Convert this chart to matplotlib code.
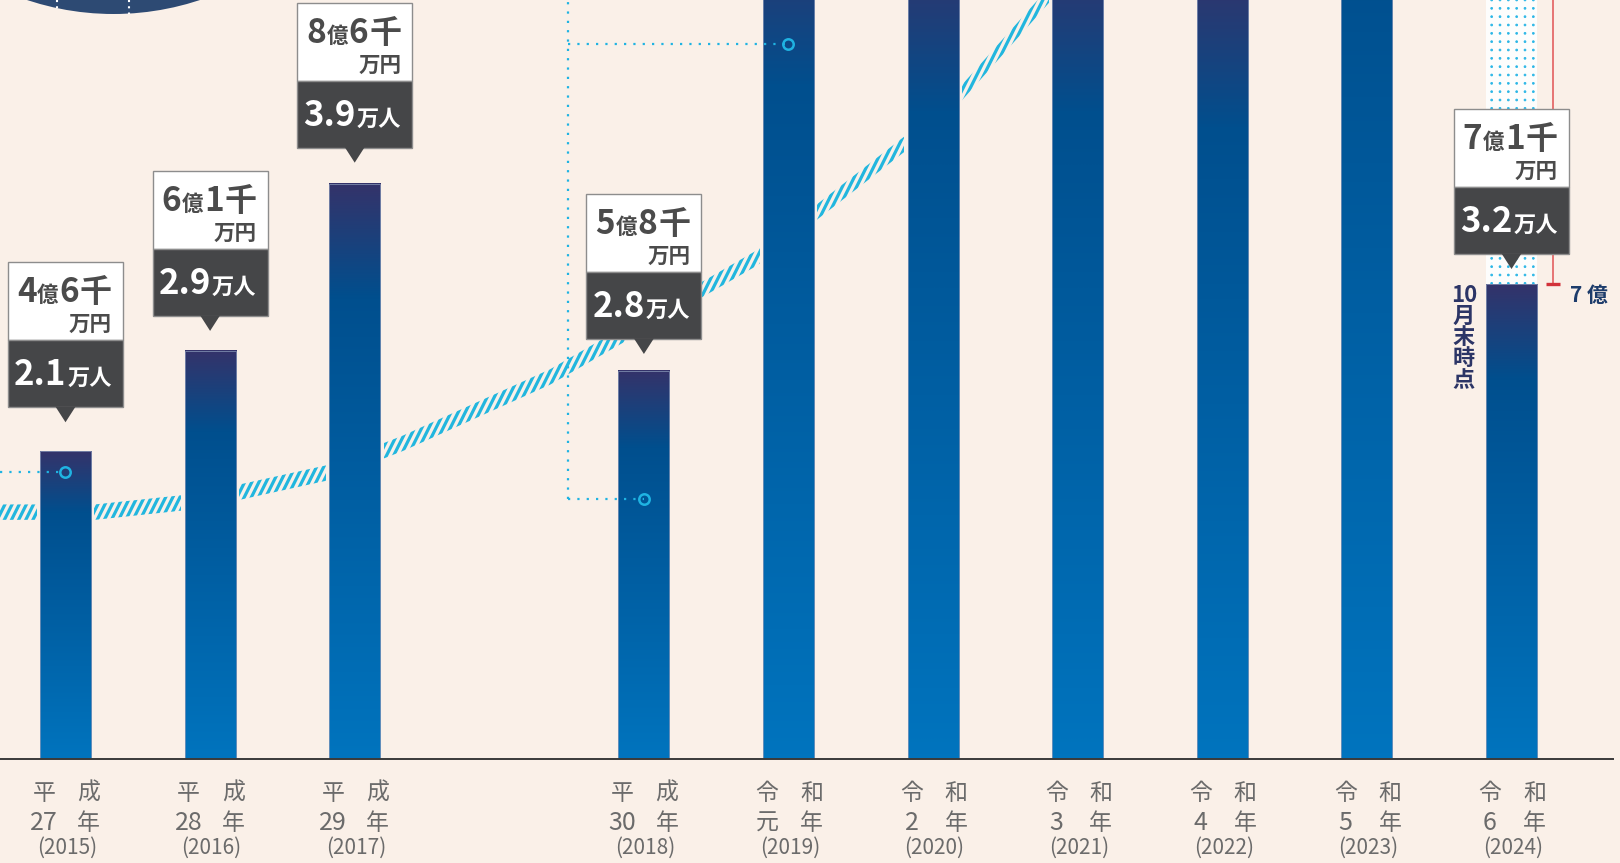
import numpy as np
import matplotlib
matplotlib.use("Agg")
import matplotlib.pyplot as plt
import matplotlib.hatch as mhatch
from matplotlib.path import Path
from matplotlib.patches import Rectangle, Polygon, Circle
from matplotlib.colors import LinearSegmentedColormap
from matplotlib.transforms import IdentityTransform, blended_transform_factory, offset_copy
from matplotlib.lines import Line2D

# ---------------- data ----------------
positions = [0, 1, 2, 4, 5, 6, 7, 8, 9, 10]
era = ["平成", "平成", "平成", "平成", "令和", "令和", "令和", "令和", "令和", "令和"]
era_year = ["27", "28", "29", "30", "元", "2", "3", "4", "5", "6"]
years = ["2015", "2016", "2017", "2018", "2019", "2020", "2021", "2022", "2023", "2024"]
amount = [4.6, 6.1, 8.6, 5.8, 12.6, 12.1, 12.1, 11.8, 14.8, 7.1]   # 億円

box_index = [0, 1, 2, 3, 9]
box_oku = ["4", "6", "8", "5", "7"]
box_sen = ["6", "1", "6", "8", "1"]
box_people = ["2.1", "2.9", "3.9", "2.8", "3.2"]

trend_x = [-0.453, 0.204, 0.813, 1.207, 1.815, 2.334, 3.351, 4.782, 5.169, 5.819, 6.199, 6.773, 7.0]
trend_y = [3.69, 3.69, 3.83, 3.99, 4.28, 4.72, 5.71, 7.49, 8.13, 9.22, 9.96, 11.35, 11.9]

marker_x = [0, 4, 5]
marker_y = [4.29, 3.89, 10.69]

target_value = 7.1
target_label = "7 億"
note_2024 = "10月末時点"


# ---------------- custom hatch patterns (steep stripes, square dot grid) ----------------
class SteepStripes(mhatch.HatchPatternBase):
    def __init__(self, hatch, density):
        self.n = int(round(hatch.count("/") * density * 1.2))
        self.m = int(round(self.n * 0.5))
        self.num_vertices = (self.n + self.m + 1) * 2 if self.n else 0

    def set_vertices_and_codes(self, vertices, codes):
        xs = (np.arange(-self.m, self.n + 1)) / self.n
        vertices[0::2, 0] = xs
        vertices[0::2, 1] = 0.0
        vertices[1::2, 0] = xs + self.m / self.n
        vertices[1::2, 1] = 1.0
        codes[0::2] = Path.MOVETO
        codes[1::2] = Path.LINETO


class GridDots(mhatch.HatchPatternBase):
    def __init__(self, hatch, density):
        self.num_rows = hatch.count(".") * density
        circ = Path.unit_circle()
        self.sv = circ.vertices
        self.sc = circ.codes
        self.num_vertices = ((self.num_rows + 1) ** 2 * len(self.sv)) if self.num_rows else 0

    def set_vertices_and_codes(self, vertices, codes):
        off = 1.0 / self.num_rows
        sv = self.sv * off * 0.11
        vp, cp = [], []
        for r in range(self.num_rows + 1):
            for c in range(self.num_rows + 1):
                vp.append(sv + [c * off, r * off])
                cp.append(self.sc)
        np.concatenate(vp, out=vertices)
        np.concatenate(cp, out=codes)


for i, t in enumerate(mhatch._hatch_types):
    if t is mhatch.NorthEastHatch:
        mhatch._hatch_types[i] = SteepStripes
    elif t is mhatch.SmallFilledCircles:
        mhatch._hatch_types[i] = GridDots

# ---------------- style ----------------
BG = "#faf0e8"
CYAN = "#1fb3e2"
W, H = 1620, 863
plt.rcParams["font.family"] = ["Noto Sans CJK JP", "DejaVu Sans"]

fig = plt.figure(figsize=(W / 100, H / 100), dpi=100, facecolor=BG)
ax = fig.add_axes([0, 0, 1, 1])
ax.set_facecolor(BG)
ax.axis("off")
XL = (-65.5 / 144.6, (W - 65.5) / 144.6)
YL = (-(H - 759) / 66.9, 759 / 66.9)
ax.set_xlim(*XL)
ax.set_ylim(*YL)
I = IdentityTransform()

bar_w = 0.353
gap_w = 0.40

# trend band (hatched)
ty = np.array(trend_y)
tx = np.array(trend_x)
half = 0.115
plt.rcParams["hatch.linewidth"] = 2.3
verts = np.concatenate([np.column_stack([tx, ty + half]),
                        np.column_stack([tx[::-1], (ty - half)[::-1]])])
band = Polygon(verts, closed=True, facecolor="none", edgecolor="#22b6de",
               hatch="//", linewidth=0, zorder=1)
ax.add_patch(band)

# bars
cmap = LinearSegmentedColormap.from_list(
    "bar", [(0.0, "#0074be"), (0.45, "#005fa3"), (0.8, "#004f8e"), (1.0, "#34336a")])
grad = np.linspace(0, 1, 256).reshape(-1, 1)
for p, v in zip(positions, amount):
    ax.add_patch(Rectangle((p - gap_w / 2, 0), gap_w, v + 0.04, facecolor=BG,
                           edgecolor="none", zorder=2))
    ax.imshow(grad, cmap=cmap, extent=[p - bar_w / 2, p + bar_w / 2, 0, v],
              origin="lower", aspect="auto", interpolation="bilinear", zorder=3)
    ax.add_patch(Rectangle((p - bar_w / 2, 0), bar_w, v, facecolor="none",
                           edgecolor="#8c9bbb", linewidth=0.5, zorder=3.2))

# 2024 projected (dotted) region
plt.rcParams["hatch.linewidth"] = 0.6
proj = Rectangle((positions[9] - bar_w / 2, amount[9]), bar_w, 8, facecolor="#fdfdfc",
                 edgecolor="#2ab6e6", hatch="..", linewidth=0, zorder=3)
ax.add_patch(proj)
ax.set_xlim(*XL)
ax.set_ylim(*YL)

# dotted connector lines and circle markers
dot_style = dict(color=CYAN, linewidth=1.6, linestyle=(0, (1, 3.2)), zorder=4)
bracket_x = 3.475
ax.plot([XL[0], marker_x[0]], [marker_y[0], marker_y[0]], **dot_style)
ax.plot([bracket_x, bracket_x], [marker_y[1], YL[1] + 0.2], **dot_style)
ax.plot([bracket_x, marker_x[1]], [marker_y[1], marker_y[1]], **dot_style)
ax.plot([bracket_x, marker_x[2]], [marker_y[2], marker_y[2]], **dot_style)
ax.plot(marker_x, marker_y, linestyle="none", marker="o", markersize=7.5,
        markerfacecolor="none", markeredgecolor=CYAN, markeredgewidth=1.8, zorder=4.5)

# baseline
ax.plot([XL[0], (1614 - 65.5) / 144.6], [0, 0], color="#3a3a3a", linewidth=1.4,
        zorder=5, solid_capstyle="butt")

# red target bracket
rx = positions[9] + 0.287
ax.plot([rx, rx], [target_value, YL[1] + 0.5], color="#e46a6a", linewidth=1.3, zorder=4)
ax.plot([rx - 0.05, rx + 0.05], [target_value, target_value], color="#d2323a",
        linewidth=2.4, zorder=4, solid_capstyle="butt")
ax.text(positions[9] + 0.405, target_value - 0.02, target_label, ha="left", va="top",
        fontsize=15, fontweight="bold", color="#1d3c6b", zorder=5)

# vertical note next to 2024 bar
bt = blended_transform_factory(ax.transData, I)
X24, Y24 = ax.transData.transform((positions[9], amount[9]))
rows = ["10"] + list(note_2024[2:])
for k, ch in enumerate(rows):
    ax.text(X24 - 47.5, Y24 - 11 - k * 21.3, ch, transform=I, ha="center", va="center",
            fontsize=16, color="#2c3566", fontweight="bold", zorder=6)

# x labels
LAB = "#6b6b6b"
def lab(xpos, dx, ytop, s, size):
    tr = offset_copy(bt, fig=fig, x=dx, y=0, units="dots")
    ax.text(xpos, H - ytop, s, transform=tr, ha="center", va="center",
            fontsize=size, color=LAB, zorder=6)

for p, e, ey, yr in zip(positions, era, era_year, years):
    lab(p, -21.5, 793, e[0], 16.5)
    lab(p, 23, 793, e[1], 16.5)
    lab(p, -21.5, 823, ey, 18 if ey.isdigit() else 16.5)
    lab(p, 23, 823, "年", 16.5)
    lab(p, 1.5, 848, "(" + yr + ")", 15)

# top-left decorative disc
fig.add_artist(Circle((113.5, H + 260), 274, transform=I, facecolor="#2d4a73",
                      edgecolor="none", zorder=2))
for xx, ln in [(57, 9), (129, 14)]:
    fig.add_artist(Line2D([xx, xx], [H, H - ln], transform=I, color="white",
                          linewidth=1.5, linestyle=(0, (1, 2)), zorder=3))

# callout boxes
renderer = fig.canvas.get_renderer()
gaps = [29, 20, 21, 17, 15]
BOXC = "#454648"
TXT = "#4b4b4b"

def place_right(xr, yb, pieces, color):
    x = xr
    for s, size in reversed(pieces):
        t = fig.text(x, yb, s, transform=I, ha="right", va="baseline", fontsize=size,
                     fontweight="bold", color=color, zorder=7)
        x -= t.get_window_extent(renderer).width + 0.8

for k, b in enumerate(box_index):
    X, Y = ax.transData.transform((positions[b], amount[b]))
    tip = Y + gaps[k]
    db = tip + 15
    dt = db + 67
    wt = dt + 78
    L = X - 57.5
    fig.add_artist(Rectangle((L, dt), 115, 78, transform=I, facecolor="white",
                             edgecolor="#8d8d8d", linewidth=1.0, zorder=6))
    fig.add_artist(Rectangle((L, db), 115, 67, transform=I, facecolor=BOXC,
                             edgecolor="#8d8d8d", linewidth=1.0, zorder=6))
    fig.add_artist(Polygon([(X - 10, db + 0.6), (X + 10, db + 0.6), (X, tip)], closed=True,
                           transform=I, facecolor=BOXC, edgecolor="none", zorder=6))
    R = X + 57.5 - 11
    place_right(R, wt - 40, [(box_oku[k], 24), ("億", 15.5), (box_sen[k], 24), ("千", 23)], TXT)
    place_right(R, wt - 69, [("万円", 15.5)], TXT)
    place_right(R, dt - 45, [(box_people[k], 25), ("万人", 16)], "white")

fig.savefig("out.png", dpi=100, facecolor=BG)
